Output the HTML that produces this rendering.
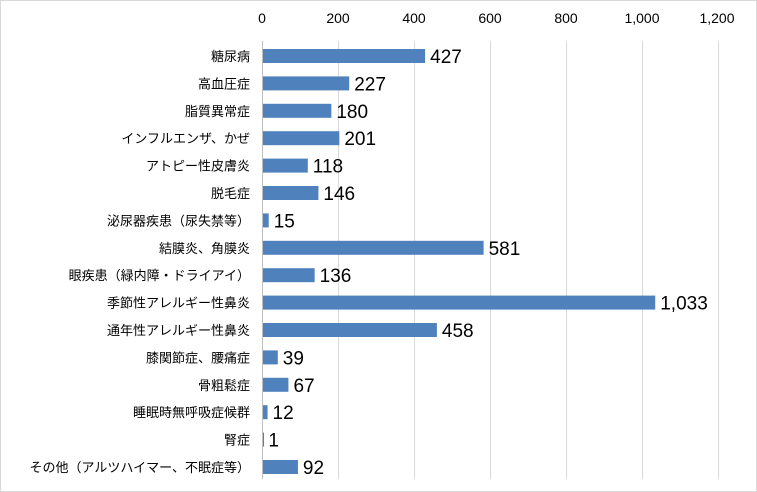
<!DOCTYPE html>
<html><head><meta charset="utf-8"><style>
body{margin:0;background:#fff}
svg{display:block}
text{font-family:"Liberation Sans","Noto Sans CJK JP",sans-serif}
</style></head><body>
<svg width="757" height="492" xmlns="http://www.w3.org/2000/svg">
<rect x="0.5" y="0.5" width="756" height="491" fill="#fff" stroke="#d9d9d9"/>
<g stroke="#d9d9d9" stroke-width="1">
<line x1="338.5" y1="41" x2="338.5" y2="479"/>
<line x1="414.5" y1="41" x2="414.5" y2="479"/>
<line x1="490.5" y1="41" x2="490.5" y2="479"/>
<line x1="566.5" y1="41" x2="566.5" y2="479"/>
<line x1="642.5" y1="41" x2="642.5" y2="479"/>
<line x1="718.5" y1="41" x2="718.5" y2="479"/>
<line x1="262.5" y1="41" x2="262.5" y2="479" stroke="#bfbfbf"/>
</g>
<g font-size="14" fill="#000" text-anchor="middle">
<text x="262" y="23">0</text><text x="338" y="23">200</text><text x="414" y="23">400</text><text x="490" y="23">600</text><text x="566" y="23">800</text><text x="642" y="23">1,000</text><text x="717" y="23">1,200</text>
</g>
<g id="bars" fill="#4f81bd"></g>
<g id="cats" font-size="13" text-anchor="end"></g>
<g id="vals" font-size="19"></g>
<script>
var d=[["糖尿病",427],["高血圧症",227],["脂質異常症",180],["インフルエンザ、かぜ",201],["アトピー性皮膚炎",118],["脱毛症",146],["泌尿器疾患（尿失禁等）",15],["結膜炎、角膜炎",581],["眼疾患（緑内障・ドライアイ）",136],["季節性アレルギー性鼻炎",1033],["通年性アレルギー性鼻炎",458],["膝関節症、腰痛症",39],["骨粗鬆症",67],["睡眠時無呼吸症候群",12],["腎症",1],["その他（アルツハイマー、不眠症等）",92]];
var ns="http://www.w3.org/2000/svg",b=document.getElementById("bars"),c=document.getElementById("cats"),v=document.getElementById("vals");
d.forEach(function(r,i){var y=49+i*27.4,w=r[1]*0.3797;
var e=document.createElementNS(ns,"rect");e.setAttribute("x",263);e.setAttribute("y",y);e.setAttribute("width",Math.max(w,1));e.setAttribute("height",14);b.appendChild(e);
var t=document.createElementNS(ns,"text");t.setAttribute("x",250);t.setAttribute("y",y+12);t.textContent=r[0];c.appendChild(t);
var s=document.createElementNS(ns,"text");s.setAttribute("x",263+w+5);s.setAttribute("y",y+14);s.textContent=r[1].toLocaleString("en-US");v.appendChild(s);});
</script>
</svg>
</body></html>
